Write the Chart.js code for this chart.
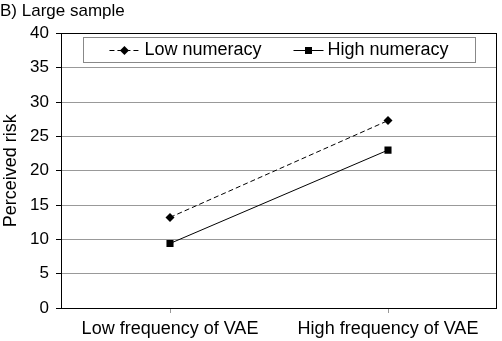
<!DOCTYPE html>
<html>
<head>
<meta charset="utf-8">
<script src="https://cdn.jsdelivr.net/npm/chart.js@4"></script>
<style>
  html, body { margin: 0; padding: 0; background: #fff; }
  #wrap { width: 502px; height: 341px; }
</style>
</head>
<body>
<div id="wrap"><canvas id="riskChart" width="502" height="341"></canvas></div>
<script>
const categories = ["Low frequency of VAE", "High frequency of VAE"];
const lowNumeracy = [13.2, 27.3];
const highNumeracy = [9.4, 23.0];
const yTicks = [0, 5, 10, 15, 20, 25, 30, 35, 40];

const font = "'Liberation Sans', Arial, sans-serif";

// legend is drawn inside the plot area, in a thin grey box
function drawSwatch(ctx, x, y, dashed, diamond) {
    ctx.save();
    ctx.strokeStyle = '#000';
    ctx.lineWidth = 1;
    if (dashed) ctx.setLineDash([5, 3]);
    ctx.beginPath();
    ctx.moveTo(x, y + 0.5);
    ctx.lineTo(x + 30, y + 0.5);
    ctx.stroke();
    ctx.fillStyle = '#000';
    if (diamond) {
        ctx.beginPath();
        ctx.moveTo(x + 15, y - 4); ctx.lineTo(x + 19.5, y + 0.5);
        ctx.lineTo(x + 15, y + 5); ctx.lineTo(x + 10.5, y + 0.5);
        ctx.closePath();
        ctx.fill();
    } else {
        ctx.fillRect(x + 11.5, y - 3, 7, 7);
    }
    ctx.restore();
}

const frame = {
    id: 'frame',
    afterDatasetsDraw(chart) {
        let a = chart.chartArea;
        let ctx = chart.ctx;
        ctx.save();
        ctx.strokeStyle = '#000';
        ctx.lineWidth = 1;
        ctx.strokeRect(Math.round(a.left) + 0.5, Math.round(a.top) + 0.5,
            Math.round(a.right - a.left) - 1, Math.round(a.bottom - a.top));

        // legend
        let bx = Math.round(a.left) + 22, by = Math.round(a.top) + 4;
        let bw = Math.round(a.right - a.left) - 44, bh = 25;
        ctx.fillStyle = '#fff';
        ctx.fillRect(bx, by, bw, bh);
        ctx.strokeStyle = '#888';
        ctx.strokeRect(bx + 0.5, by + 0.5, bw, bh);

        ctx.font = '18px ' + font;
        ctx.textBaseline = 'middle';
        ctx.fillStyle = '#000';
        let ds = chart.data.datasets;
        let w0 = ctx.measureText(ds[0].label).width;
        let w1 = ctx.measureText(ds[1].label).width;
        let total = 30 + 5 + w0 + 32 + 30 + 4 + w1;
        let x = bx + (bw - total) / 2;
        let cy = by + bh / 2 + 0.5;
        drawSwatch(ctx, x, Math.round(cy), true, true);
        x += 35;
        ctx.fillText(ds[0].label, x, cy);
        x += w0 + 32;
        drawSwatch(ctx, x, Math.round(cy), false, false);
        x += 34;
        ctx.fillText(ds[1].label, x, cy);
        ctx.restore();
    }
};

new Chart(document.getElementById('riskChart'), {
    type: 'line',
    data: {
        labels: categories,
        datasets: [
            {
                label: 'Low numeracy',
                data: lowNumeracy,
                borderColor: '#000',
                backgroundColor: '#000',
                borderWidth: 1,
                borderDash: [5, 3],
                pointStyle: 'rectRot',
                pointRadius: 4.5,
                pointBorderWidth: 0,
                fill: false
            },
            {
                label: 'High numeracy',
                data: highNumeracy,
                borderColor: '#000',
                backgroundColor: '#000',
                borderWidth: 1,
                pointStyle: 'rect',
                pointRadius: 5,
                pointBorderWidth: 0,
                fill: false
            }
        ]
    },
    options: {
        responsive: false,
        animation: false,
        layout: { padding: { left: 0, right: 1, top: 0, bottom: 0 } },
        plugins: {
            title: {
                display: true,
                text: 'B) Large sample',
                align: 'start',
                color: '#000',
                font: { family: font, size: 17, weight: 'normal' },
                padding: { top: 1, bottom: 12 }
            },
            legend: { display: false },
            tooltip: { enabled: false }
        },
        scales: {
            x: {
                offset: true,
                afterFit(axis) {
                    axis.height = 33;
                },
                grid: {
                    display: true,
                    offset: false,
                    drawOnChartArea: false,
                    drawTicks: true,
                    tickLength: 5,
                    color: '#999'
                },
                border: { display: false },
                ticks: {
                    color: '#000',
                    font: { family: font, size: 18 },
                    padding: 5,
                    maxRotation: 0
                }
            },
            y: {
                min: 0,
                max: 40,
                afterBuildTicks(axis) {
                    axis.ticks = yTicks.map(v => ({ value: v }));
                },
                afterFit(axis) {
                    axis.width = 61;
                },
                grid: {
                    color: '#999',
                    drawTicks: true,
                    tickLength: 5,
                    tickColor: '#000'
                },
                border: { display: false },
                title: {
                    display: true,
                    text: 'Perceived risk',
                    color: '#000',
                    font: { family: font, size: 18 },
                    padding: 0
                },
                ticks: {
                    color: '#000',
                    font: { family: font, size: 17 },
                    padding: 7
                }
            }
        }
    },
    plugins: [frame]
});
</script>
</body>
</html>
